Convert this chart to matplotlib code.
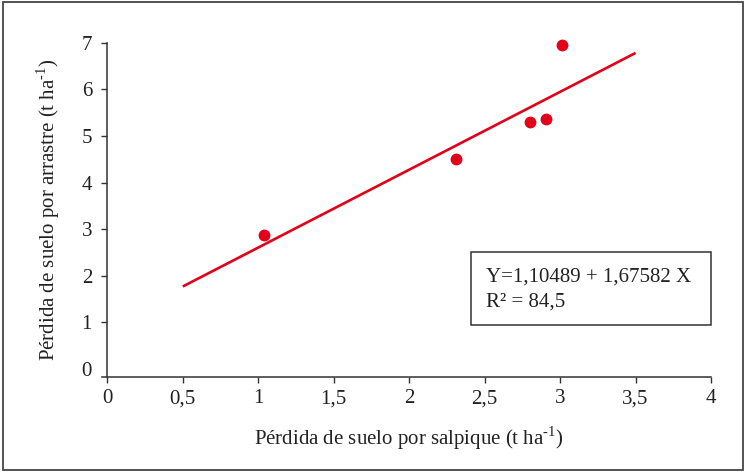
import matplotlib
matplotlib.use("Agg")
import matplotlib.pyplot as plt
from matplotlib.patches import Rectangle

# Data
salpique = [1.04, 2.31, 2.80, 2.91, 3.01]
arrastre = [2.88, 4.51, 5.29, 5.36, 6.96]
fit_x = [0.5, 3.5]
fit_y = [1.77, 6.78]
xticks = [0, 0.5, 1, 1.5, 2, 2.5, 3, 3.5, 4]
xticklabels = ["0", "0,5", "1", "1,5", "2", "2,5", "3", "3,5", "4"]
yticks = [0, 1, 2, 3, 4, 5, 6, 7]
yticklabels = ["0", "1", "2", "3", "4", "5", "6", "7"]
eq_lines = ["Y=1,10489 + 1,67582 X", "R² = 84,5"]

plt.rcParams['font.family'] = ['Liberation Serif', 'DejaVu Serif']
plt.rcParams['mathtext.fontset'] = 'custom'
plt.rcParams['mathtext.rm'] = 'Liberation Serif'

W, H = 744, 473
fig = plt.figure(figsize=(W / 100, H / 100), dpi=100)
ax = fig.add_axes([107.3 / W, 1 - 376.7 / H, (711 - 107.3) / W, (376.7 - 42.7) / H])

red = '#e2001a'
axc = '#333333'
txc = '#222222'
fs = 15

ax.plot(fit_x, fit_y, color=red, lw=1.9, solid_capstyle='butt', zorder=2)
ax.plot(salpique, arrastre, 'o', color=red, ms=7.5, mec=red, zorder=3, clip_on=False)

ax.set_xlim(0, 4)
ax.set_ylim(-0.165, 7)
ax.set_xticks(xticks)
ax.set_xticklabels(xticklabels)
ax.set_yticks(yticks)
ax.set_yticklabels(yticklabels)

for s in ['top', 'right']:
    ax.spines[s].set_visible(False)
for s in ['left', 'bottom']:
    ax.spines[s].set_color(axc)
    ax.spines[s].set_linewidth(1.1)
ax.spines['bottom'].set_bounds(-0.035, 4)
ax.spines['left'].set_bounds(-0.165, 7)

ax.tick_params(axis='both', colors=axc, labelcolor=txc, labelsize=fs,
               length=4, width=1.0, direction='out')
ax.tick_params(axis='x', pad=5)
ax.tick_params(axis='y', pad=7)
ax.yaxis.get_major_ticks()[0].tick1line.set_visible(False)

sup = "$^{\\mathregular{\u20101}}$"
ax.set_xlabel("Pérdida de suelo por salpique (t ha" + sup + ")",
              fontsize=fs, color=txc, labelpad=12)
ax.set_ylabel("Pérdida de suelo por arrastre (t ha" + sup + ")",
              fontsize=fs, color=txc, labelpad=14)

# equation box (pixel geometry converted to figure fraction)
bx0, by0, bx1, by1 = 471, 251.7, 711, 325
fig.patches.append(Rectangle((bx0 / W, 1 - by1 / H), (bx1 - bx0) / W, (by1 - by0) / H,
                             transform=fig.transFigure, fill=False,
                             edgecolor=axc, lw=1.1))
fig.text(486 / W, 1 - 276.7 / H, eq_lines[0], fontsize=fs, color=txc, va='center')
fig.text(486 / W, 1 - 301.7 / H, eq_lines[1], fontsize=fs, color=txc, va='center')

# outer frame
fig.patches.append(Rectangle((3 / W, 3 / H), (W - 4) / W, (H - 5) / H,
                             transform=fig.transFigure, fill=False,
                             edgecolor='#444444', lw=1.3))

fig.savefig('out.png', dpi=100)
